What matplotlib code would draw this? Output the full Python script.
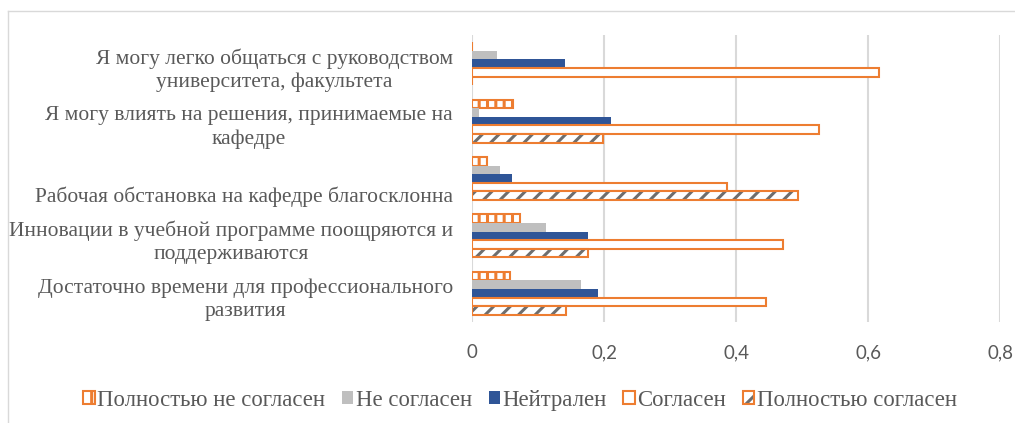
import matplotlib
matplotlib.use("Agg")
import matplotlib.pyplot as plt
import matplotlib.patches as mpatches
from matplotlib.transforms import blended_transform_factory, ScaledTranslation
import numpy as np

categories = [
    "Достаточно времени для профессионального\nразвития",
    "Инновации в учебной программе поощряются и\nподдерживаются",
    "\nРабочая обстановка на кафедре благосклонна",
    "Я могу влиять на решения, принимаемые на\nкафедре",
    "Я могу легко общаться с руководством\nуниверситета, факультета",
]
series_names = ["Полностью не согласен", "Не согласен", "Нейтрален", "Согласен", "Полностью согласен"]
strongly_disagree = [0.058, 0.072, 0.022, 0.062, 0.0]
disagree = [0.165, 0.112, 0.043, 0.010, 0.038]
neutral = [0.191, 0.175, 0.060, 0.210, 0.141]
agree = [0.446, 0.471, 0.386, 0.526, 0.617]
strongly_agree = [0.143, 0.176, 0.494, 0.199, 0.0]
xticks = [0, 0.2, 0.4, 0.6, 0.8]
xtick_labels = ["0", "0,2", "0,4", "0,6", "0,8"]

ORANGE = "#ED7D31"
GREY = "#BFBFBF"
BLUE = "#2F5597"
HATCHGREY = "#6E6E6E"
TEXT = "#595959"

plt.rcParams['font.family'] = ['Liberation Serif', 'DejaVu Serif']
plt.rcParams['hatch.linewidth'] = 2.2

fig = plt.figure(figsize=(10.15, 4.23), dpi=100)
W, H = 1015, 423
ax = fig.add_axes([472 / W, 1 - 322 / H, (1000 - 472) / W, (322 - 35) / H])

y = np.arange(len(categories))
h = 0.15

# Полностью не согласен
ax.barh(y + 2 * h, strongly_disagree, height=h, facecolor="white", edgecolor=ORANGE,
        hatch="||", linewidth=1.5, zorder=3)
# Не согласен
ax.barh(y + h, disagree, height=h, color=GREY, linewidth=0, zorder=3)
# Нейтрален
ax.barh(y, neutral, height=h, color=BLUE, linewidth=0, zorder=3)
# Согласен
ax.barh(y - h, agree, height=h, facecolor="white", edgecolor=ORANGE, linewidth=1.5, zorder=3)
# Полностью согласен: grey hatch + orange outline
ax.barh(y - 2 * h, strongly_agree, height=h, facecolor="white", edgecolor=HATCHGREY,
        hatch="//", linewidth=0, zorder=3)
ax.barh(y - 2 * h, strongly_agree, height=h, facecolor="none", edgecolor=ORANGE,
        linewidth=1.5, zorder=4)

ax.set_xlim(0, 0.8)
ax.set_ylim(-0.5, len(categories) - 0.5)
ax.set_xticks(xticks)
ax.set_xticklabels(xtick_labels, family=['Lato', 'DejaVu Sans'], fontsize=13.5)
ax.set_yticks([])
ax.tick_params(axis="both", length=0, labelcolor=TEXT)
ax.tick_params(axis="x", pad=16)
ax.grid(axis="x", color="#D9D9D9", linewidth=1.5, zorder=0)
for s in ax.spines.values():
    s.set_visible(False)

trans = blended_transform_factory(fig.transFigure, ax.transData) + \
    ScaledTranslation(0, -0.065, fig.dpi_scale_trans)
for yi, cat in zip(y, categories):
    ax.text(453 / W, yi, cat, transform=trans, ha="right", va="center",
            multialignment="center", fontsize=15.5, color=TEXT, linespacing=1.3)

sa_handle = (mpatches.Patch(facecolor="white", edgecolor=HATCHGREY, hatch="//", linewidth=0),
             mpatches.Patch(facecolor="none", edgecolor=ORANGE, linewidth=1.5))
handles = [
    mpatches.Patch(facecolor="white", edgecolor=ORANGE, hatch="|", linewidth=1.5),
    mpatches.Patch(facecolor=GREY, linewidth=0),
    mpatches.Patch(facecolor=BLUE, linewidth=0),
    mpatches.Patch(facecolor="white", edgecolor=ORANGE, linewidth=1.5),
    sa_handle,
]
leg = fig.legend(handles, series_names, loc="center", bbox_to_anchor=(520 / W, 1 - 400 / H),
                 ncol=5, frameon=False, fontsize=16.4, handlelength=0.5, handleheight=0.55,
                 handletextpad=0.12, columnspacing=0.72, labelcolor=TEXT)

# chart border (top and left visible)
fig.add_artist(plt.Line2D([8 / W, 8 / W], [0, 1 - 11 / H], transform=fig.transFigure,
                          color="#D9D9D9", linewidth=1))
fig.add_artist(plt.Line2D([8 / W, 1], [1 - 11 / H, 1 - 11 / H], transform=fig.transFigure,
                          color="#D9D9D9", linewidth=1))

fig.savefig("out.png", dpi=100)
